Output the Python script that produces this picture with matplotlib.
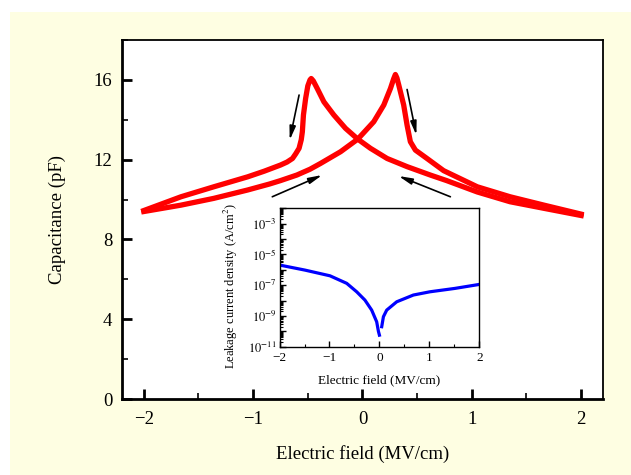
import numpy as np
import matplotlib
matplotlib.use('Agg')
import matplotlib.pyplot as plt
from matplotlib.patches import Rectangle
from matplotlib.ticker import MultipleLocator, LogLocator, FuncFormatter, NullFormatter

plt.rcParams['font.family'] = ['Liberation Serif', 'DejaVu Serif']
plt.rcParams['mathtext.fontset'] = 'stix'

# C-V curve, branch with the peak on the left
field_left = [-2.0, -1.66, -1.36, -1.05, -0.9, -0.75, -0.69, -0.64, -0.61, -0.58,
              -0.56, -0.55, -0.54, -0.52, -0.5, -0.48, -0.469, -0.45, -0.414, -0.353,
              -0.262, -0.155, -0.043, 0.073, 0.225, 0.408, 0.62, 0.77, 1.05, 1.35,
              1.66, 2.0]
cap_left = [9.45, 10.14, 10.64, 11.14, 11.42, 11.73, 11.88, 12.06, 12.3, 12.57,
            13.0, 13.4, 14.24, 15.07, 15.7, 16.0, 16.07, 15.95, 15.57, 14.9,
            14.24, 13.57, 13.03, 12.57, 12.06, 11.65, 11.23, 10.95, 10.38, 9.89,
            9.56, 9.2]

# C-V curve, branch with the peak on the right
field_right = [-2.0, -1.66, -1.36, -1.05, -0.85, -0.75, -0.6, -0.48, -0.384, -0.2,
               -0.043, 0.103, 0.195, 0.256, 0.285, 0.301, 0.315, 0.332, 0.377, 0.408,
               0.438, 0.484, 0.59, 0.742, 1.05, 1.35, 1.66, 2.0]
cap_right = [9.4, 9.72, 10.06, 10.48, 10.78, 10.95, 11.23, 11.52, 11.81, 12.4,
             13.03, 13.9, 14.74, 15.57, 16.05, 16.27, 16.1, 15.74, 14.74, 13.73,
             12.9, 12.48, 12.06, 11.45, 10.64, 10.14, 9.72, 9.27]

# leakage current (inset), negative and positive field parts
jv_field_neg = [-2.0, -1.49, -0.99, -0.655, -0.455, -0.29, -0.155, -0.055, -0.02, 0.0]
jv_log_neg = [-5.69, -6.02, -6.39, -6.88, -7.43, -7.97, -8.62, -9.38, -10.0, -10.25]
jv_field_pos = [0.046, 0.08, 0.146, 0.346, 0.68, 1.01, 1.51, 2.0]
jv_log_pos = [-9.7, -9.05, -8.62, -8.08, -7.64, -7.43, -7.21, -6.95]

# sweep direction arrows (start, end) in data units
arrows = [((-0.58, 15.24), (-0.666, 12.98)),
          ((0.408, 15.52), (0.493, 13.23)),
          ((-0.825, 10.14), (-0.368, 11.23)),
          ((0.804, 10.14), (0.33, 11.18))]

fig = plt.figure(figsize=(6.31, 4.75), dpi=100)
fig.patch.set_facecolor('white')
fig.patches.append(Rectangle((10 / 631, 0), 1, 463 / 475, transform=fig.transFigure,
                             facecolor='#fefee2', edgecolor='none', zorder=-1))

ax = fig.add_axes([0.1933, 0.16, 0.7623, 0.7558])
ax.plot(field_left, cap_left, color='#ff0000', lw=3.8, solid_joinstyle='round')
ax.plot(field_right, cap_right, color='#ff0000', lw=3.8, solid_joinstyle='round')

for start, end in arrows:
    ax.annotate('', xy=end, xytext=start,
                arrowprops=dict(arrowstyle='-|>,head_length=0.8,head_width=0.18',
                                color='black', lw=1.2, shrinkA=0, shrinkB=0))

ax.set_xlim(-2.2, 2.2)
ax.set_ylim(0, 18)
ax.xaxis.set_major_locator(MultipleLocator(1))
ax.xaxis.set_minor_locator(MultipleLocator(0.5))
ax.yaxis.set_major_locator(MultipleLocator(4))
ax.yaxis.set_minor_locator(MultipleLocator(2))
ax.tick_params(which='both', direction='in', top=False, right=False, labelsize=13.5)
ax.tick_params(which='major', length=7, width=2)
ax.tick_params(which='minor', length=4, width=1.2)
ax.tick_params(axis='x', pad=9)
ax.tick_params(axis='y', pad=7)
for side in ['left', 'bottom']:
    ax.spines[side].set_linewidth(2)
for side in ['top', 'right']:
    ax.spines[side].set_linewidth(1.3)
ax.set_xlabel('Electric field (MV/cm)', fontsize=13.5, labelpad=12)
ax.set_ylabel('Capacitance (pF)', fontsize=13.5, labelpad=20)

# inset
ins = fig.add_axes([0.443, 0.2701, 0.3166, 0.2914])
ins.plot(jv_field_neg, 10 ** np.array(jv_log_neg), color='#0000ff', lw=2.3)
ins.plot(jv_field_pos, 10 ** np.array(jv_log_pos), color='#0000ff', lw=2.3)
ins.set_yscale('log')
ins.set_xlim(-2, 2)
ins.set_ylim(1e-11, 1e-2)
ins.xaxis.set_major_locator(MultipleLocator(1))
ins.xaxis.set_minor_locator(MultipleLocator(0.5))
ins.yaxis.set_major_locator(LogLocator(base=10, numticks=20))
ins.yaxis.set_minor_locator(LogLocator(base=10, subs=np.arange(2, 10), numticks=20))
ins.yaxis.set_minor_formatter(NullFormatter())


def log_label(v, pos):
    e = int(round(np.log10(v)))
    if e % 2 == 0:
        return ''
    return r'$10^{%d}$' % e


ins.yaxis.set_major_formatter(FuncFormatter(log_label))
ins.tick_params(which='both', direction='in', top=False, right=False)
ins.tick_params(axis='x', labelsize=9.5, pad=4)
ins.tick_params(axis='y', labelsize=9, pad=2)
ins.tick_params(which='major', length=4, width=1)
ins.tick_params(which='minor', length=2, width=0.8)
for side in ins.spines:
    ins.spines[side].set_linewidth(1)
ins.set_xlabel('Electric field (MV/cm)', fontsize=9.5, labelpad=7)
ins.set_ylabel('Leakage current density (A/cm$^2$)', fontsize=9)
ins.yaxis.set_label_coords(-0.2, 0.435)

fig.savefig('out.png', dpi=100)
